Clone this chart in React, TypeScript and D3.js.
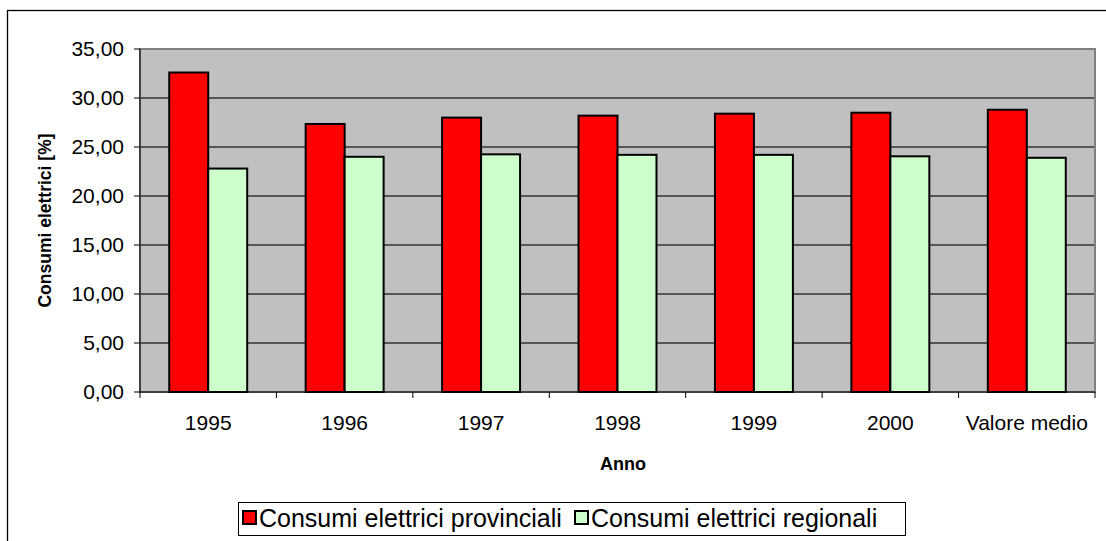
import * as d3 from 'd3';
import React from 'react';

// anni / categorie sull'asse x
const categories = ['1995', '1996', '1997', '1998', '1999', '2000', 'Valore medio'];
// consumi elettrici [%]
const provinciali = [32.6, 27.35, 28.0, 28.2, 28.4, 28.5, 28.8];
const regionali = [22.8, 24.0, 24.25, 24.2, 24.2, 24.05, 23.9];
const seriesNames = ['Consumi elettrici provinciali', 'Consumi elettrici regionali'];
const seriesColors = ['#FF0000', '#CCFFCC'];
const yTicks = [0, 5, 10, 15, 20, 25, 30, 35];

const W = 1106;
const H = 541;
const font = '"Liberation Sans", Arial, sans-serif';

function App() {
  // plot area bounds
  const left = 140, right = 1095, top = 49, bottom = 392;

  const x = d3.scaleBand().domain(categories).range([left, right]).paddingInner(0).paddingOuter(0);
  const y = d3.scaleLinear().domain([0, 35]).range([bottom, top]);

  // excel style: gap width 150%
  const barW = x.bandwidth() / 3.5;
  const fmt = (v: number) => v.toFixed(2).replace('.', ',');

  const data = [provinciali, regionali];

  return (
    <svg width={W} height={H} style={{ position: 'absolute', left: 0, top: 0, fontFamily: font }}>
      <rect x={0} y={0} width={W} height={H} fill="#fff" />
      {/* bordo del grafico */}
      <rect x={7.5} y={10.5} width={W + 20} height={H + 20} fill="none" stroke="#000" strokeWidth={1.3} />

      {/* area del tracciato */}
      <rect x={left} y={top} width={right - left} height={bottom - top} fill="#C0C0C0" />
      {yTicks.slice(1, -1).map(t => (
        <line key={t} x1={left} x2={right} y1={y(t)} y2={y(t)} stroke="#333" strokeWidth={1.3} />
      ))}
      <rect x={left} y={top} width={right - left} height={bottom - top} fill="none" stroke="#808080" strokeWidth={2} />

      {/* barre */}
      {data.map((vals, si) =>
        vals.map((v, i) => (
          <rect
            key={si + '-' + i}
            x={x(categories[i])! + barW * 0.75 + si * barW}
            y={y(v)}
            width={barW}
            height={y(0) - y(v)}
            fill={seriesColors[si]}
            stroke="#000"
            strokeWidth={2}
          />
        ))
      )}

      {/* asse y */}
      <line x1={left} x2={left} y1={top} y2={bottom} stroke="#000" strokeWidth={1} />
      {yTicks.map(t => (
        <g key={t}>
          <line x1={left - 6} x2={left} y1={y(t)} y2={y(t)} stroke="#000" />
          <text x={124} y={y(t)} dy="0.35em" textAnchor="end" fontSize={21} fill="#000">
            {fmt(t)}
          </text>
        </g>
      ))}

      {/* asse x */}
      <line x1={left} x2={right} y1={bottom} y2={bottom} stroke="#000" strokeWidth={1} />
      {categories.map((c, i) => (
        <g key={c}>
          <line x1={x(c)! + x.bandwidth()} x2={x(c)! + x.bandwidth()} y1={bottom} y2={bottom + 6} stroke="#000" />
          {i === 0 && <line x1={left} x2={left} y1={bottom} y2={bottom + 6} stroke="#000" />}
          <text x={x(c)! + x.bandwidth() / 2} y={430} textAnchor="middle" fontSize={21} fill="#000">
            {c}
          </text>
        </g>
      ))}

      {/* titoli assi */}
      <text x={623} y={470} textAnchor="middle" fontSize={18} fontWeight="bold">Anno</text>
      <text
        transform={`translate(51, ${(top + bottom) / 2}) rotate(-90)`}
        textAnchor="middle"
        fontSize={17.5}
        fontWeight="bold"
      >
        Consumi elettrici [%]
      </text>

      {/* legenda */}
      <rect x={238.5} y={502.5} width={667} height={33} fill="#fff" stroke="#000" strokeWidth={1} />
      {seriesNames.map((s, i) => {
        const lx = i === 0 ? 243 : 575;
        return (
          <g key={s}>
            <rect x={lx} y={511} width={13} height={13} fill={seriesColors[i]} stroke="#000" strokeWidth={2} />
            <text x={lx + 16} y={527} fontSize={25} fill="#000">{s}</text>
          </g>
        );
      })}
    </svg>
  );
}

export default App;
